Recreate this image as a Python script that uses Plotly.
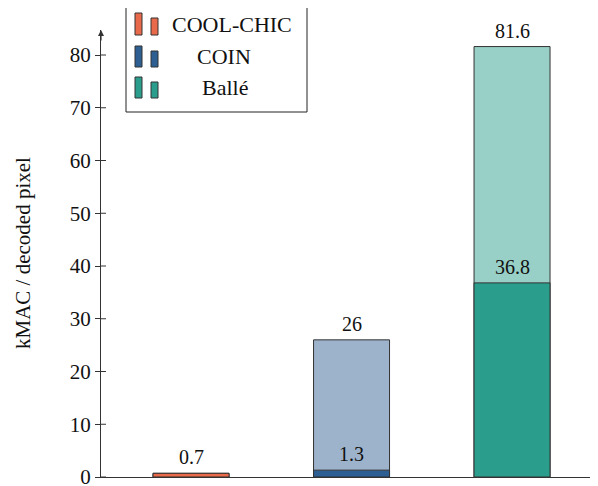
import plotly.graph_objects as go

categories = ["COOL-CHIC", "COIN", "Ballé"]
total_kmac = [0.7, 26.0, 81.6]
decoder_kmac = [0.7, 1.3, 36.8]
dark_colors = ["#E96A4B", "#2D5F92", "#2A9D8C"]
light_colors = ["#E96A4B", "#9DB3CB", "#98CFC6"]
yticks = [0, 10, 20, 30, 40, 50, 60, 70, 80]

FONT = "Times New Roman"
OFF = 8  # page body margin
W, H = 598 - OFF, 486 - OFF
AX_X, AX_Y = 101, 477  # page px of y-axis / x-axis
L, T, R = AX_X - OFF, 30 - OFF, 0
B = H - (AX_Y - OFF)
PW, PH = W - L - R, H - T - B
px_per_unit = 5.275
ymax = PH / px_per_unit
xs = list(range(len(categories)))
xmin = -0.561
xmax = xmin + PW / 160.5

fig = go.Figure()
fig.add_trace(go.Bar(x=xs, y=total_kmac, width=0.4735, marker=dict(color=light_colors, line=dict(color="#333333", width=1)), showlegend=False))
fig.add_trace(go.Bar(x=xs, y=decoder_kmac, width=0.4735, marker=dict(color=dark_colors, line=dict(color="#333333", width=1)), showlegend=False))


def px(xp):
    return (xp - AX_X) / PW


def py(yp):
    return (AX_Y - yp) / PH


shapes = []
for v in yticks:
    shapes.append(dict(type="line", xref="paper", yref="y", x0=0, x1=px(AX_X + 5), y0=v, y1=v, line=dict(color="#333333", width=1)))

fig.add_annotation(x=0, y=ymax, xref="paper", yref="y", ax=0, ay=12, axref="pixel", ayref="pixel", text="", showarrow=True, arrowhead=2, arrowsize=1, arrowwidth=1.2, arrowcolor="#333333")
for i, (t, d) in enumerate(zip(total_kmac, decoder_kmac)):
    fig.add_annotation(x=i, y=t, xref="x", yref="y", text=f"{t:g}", showarrow=False, yanchor="bottom", yshift=3, font=dict(family=FONT, size=20, color="#111111"))
    if d < t:
        fig.add_annotation(x=i, y=d, xref="x", yref="y", text=f"{d:g}", showarrow=False, yanchor="bottom", yshift=3, font=dict(family=FONT, size=20, color="#111111"))

fig.add_annotation(x=px(23), y=py(253), xref="paper", yref="paper", text="kMAC / decoded pixel", textangle=-90, showarrow=False, xanchor="center", yanchor="middle", font=dict(family=FONT, size=21, color="#111111"))

shapes.append(dict(type="rect", xref="paper", yref="paper", x0=px(126), x1=px(307), y0=py(112), y1=py(7), line=dict(color="#222222", width=1), fillcolor="white", layer="above"))
rows = [(13, 35, 18), (46, 67, 51), (77, 98, 82)]
text_centers = [232, 224, 225]
for i, name in enumerate(categories):
    top, bot, top2 = rows[i]
    shapes.append(dict(type="rect", xref="paper", yref="paper", x0=px(135), x1=px(142), y0=py(bot), y1=py(top), line=dict(color="#333333", width=1), fillcolor=dark_colors[i], layer="above"))
    shapes.append(dict(type="rect", xref="paper", yref="paper", x0=px(151), x1=px(158), y0=py(bot), y1=py(top2), line=dict(color="#333333", width=1), fillcolor=dark_colors[i], layer="above"))
    fig.add_annotation(x=px(text_centers[i]), y=py((top + bot) / 2), xref="paper", yref="paper", text=name, showarrow=False, xanchor="center", yanchor="middle", font=dict(family=FONT, size=22, color="#111111"))

fig.update_layout(
    template="none",
    width=W, height=H,
    margin=dict(l=L, r=R, t=T, b=B, pad=0),
    font=dict(family=FONT, color="#111111"),
    paper_bgcolor="white", plot_bgcolor="white",
    barmode="overlay",
    showlegend=False,
    xaxis=dict(range=[xmin, xmax], showgrid=False, zeroline=False, showticklabels=False, ticks="", showline=True, linecolor="#333333", linewidth=1.2),
    yaxis=dict(range=[0, ymax], tickvals=yticks, ticks="outside", ticklen=5, tickcolor="#333333", tickwidth=1, showgrid=False, zeroline=False, showline=True, linecolor="#333333", linewidth=1.2, tickfont=dict(family=FONT, size=21, color="#111111"), ticklabeloverflow="allow"),
    shapes=shapes,
)
fig.write_html("out.html")
